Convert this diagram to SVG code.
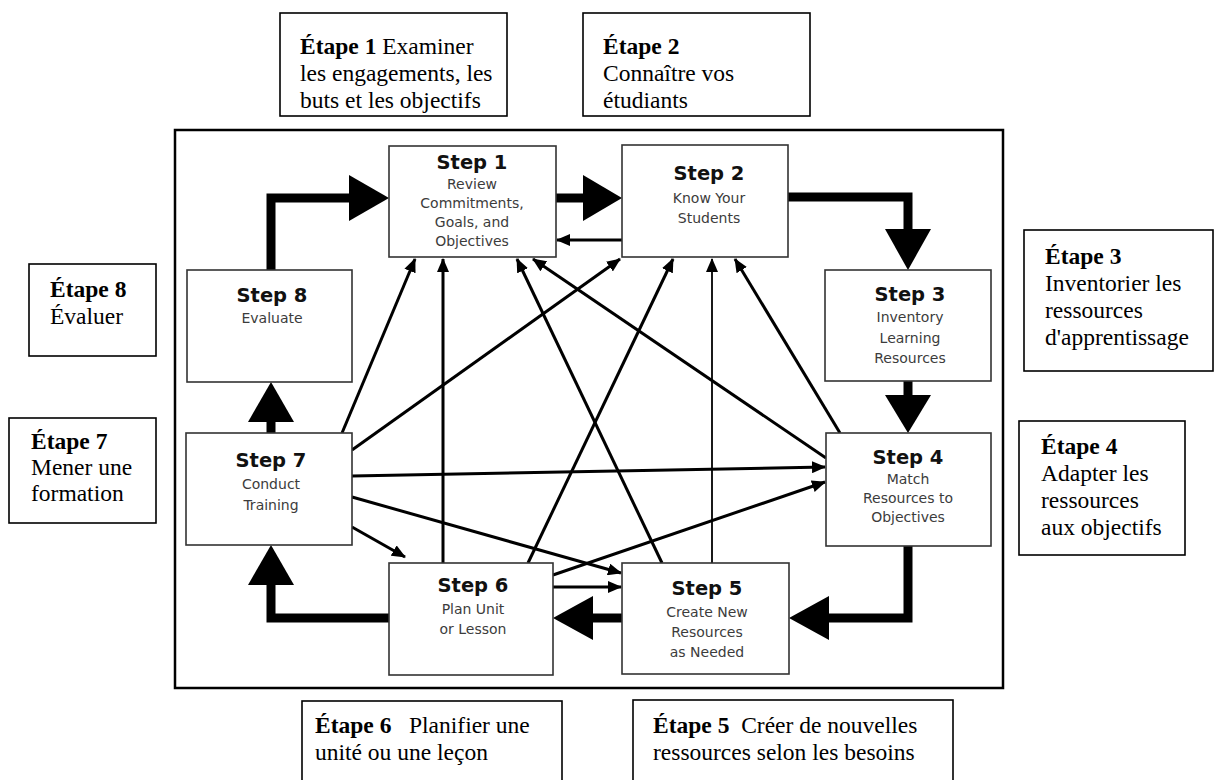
<svg xmlns="http://www.w3.org/2000/svg" width="1215" height="780" viewBox="0 0 1215 780">
  <defs>
    <style>
      .frame { fill: #fff; stroke: #000; stroke-width: 2.5; }
      .node { fill: #fff; stroke: #333; stroke-width: 1.6; }
      .note { fill: #fff; stroke: #000; stroke-width: 1.6; }
      .title { font-family: "DejaVu Sans", Verdana, sans-serif; font-weight: bold; font-size: 19.5px; fill: #111; text-anchor: middle; }
      .sub { font-family: "DejaVu Sans", Verdana, sans-serif; font-size: 14px; fill: #3c3c3c; text-anchor: middle; }
      .fr { font-family: "Liberation Serif", "Times New Roman", serif; font-size: 23.5px; fill: #000; white-space: pre; }
      .fr .b { font-weight: bold; }
      .thick { fill: none; stroke: #000; stroke-width: 9; stroke-linejoin: miter; }
      .head { fill: #000; }
      .thin { fill: none; stroke: #000; stroke-width: 3; marker-end: url(#tip); }
      .hair { fill: none; stroke: #000; stroke-width: 1.8; marker-end: url(#tip); }
    </style>
    <marker id="tip" markerUnits="userSpaceOnUse" markerWidth="14" markerHeight="12" refX="13" refY="6" orient="auto">
      <path d="M0,0 L14,6 L0,12 z" fill="#000"/>
    </marker>
  </defs>

  <rect width="1215" height="780" fill="#fff"/>

  <!-- outer frame -->
  <rect class="frame" x="175" y="130" width="828" height="558"/>

  <!-- connectors -->
  <g id="connectors">
    <!-- main cycle -->
    <path class="thick" d="M271,270 V198 H350"/>
    <polygon class="head" points="349,175 389,198 349,221"/>
    <path class="thick" d="M556,198 H585"/>
    <polygon class="head" points="583,175 622,198 583,221"/>
    <path class="thick" d="M788,197 H908 V231"/>
    <polygon class="head" points="885,229 908,270 931,229"/>
    <path class="thick" d="M908,381 V397"/>
    <polygon class="head" points="885,395 908,433 931,395"/>
    <path class="thick" d="M908,546 V618 H827"/>
    <polygon class="head" points="829,596 789,618 829,640"/>
    <path class="thick" d="M622,618 H591"/>
    <polygon class="head" points="593,596 553,618 593,640"/>
    <path class="thick" d="M389,618 H271 V583"/>
    <polygon class="head" points="248,585 271,545 294,585"/>
    <path class="thick" d="M271,433 V420"/>
    <polygon class="head" points="248,422 271,382 294,422"/>

    <!-- cross links -->
    <line class="thin" x1="622" y1="240" x2="557" y2="240"/>
    <line class="thin" x1="342" y1="433" x2="415" y2="259"/>
    <line class="thin" x1="443" y1="563" x2="443" y2="259"/>
    <line class="thin" x1="662" y1="563" x2="517" y2="259"/>
    <line class="thin" x1="826" y1="458" x2="533" y2="259"/>
    <line class="thin" x1="352" y1="450" x2="620" y2="259"/>
    <line class="thin" x1="528" y1="563" x2="673" y2="259"/>
    <line class="hair" x1="712" y1="563" x2="712" y2="259"/>
    <line class="thin" x1="840" y1="433" x2="735" y2="259"/>
    <line class="thin" x1="352" y1="476" x2="825" y2="467"/>
    <line class="thin" x1="352" y1="497" x2="621" y2="573"/>
    <line class="thin" x1="352" y1="527" x2="405" y2="557"/>
    <line class="thin" x1="553" y1="575" x2="825" y2="482"/>
    <line class="thin" x1="553" y1="587" x2="621" y2="587"/>
  </g>

  <!-- steps -->
  <g id="step1">
    <rect class="node" x="389" y="146" width="167" height="111"/>
    <text class="title" x="472" y="169">Step 1</text>
    <text class="sub" x="472" y="189">Review</text>
    <text class="sub" x="472" y="208">Commitments,</text>
    <text class="sub" x="472" y="227">Goals, and</text>
    <text class="sub" x="472" y="246">Objectives</text>
  </g>
  <g id="step2">
    <rect class="node" x="622" y="145" width="166" height="112"/>
    <text class="title" x="709" y="180">Step 2</text>
    <text class="sub" x="709" y="203">Know Your</text>
    <text class="sub" x="709" y="223">Students</text>
  </g>
  <g id="step3">
    <rect class="node" x="825" y="270" width="166" height="111"/>
    <text class="title" x="910" y="301">Step 3</text>
    <text class="sub" x="910" y="322">Inventory</text>
    <text class="sub" x="910" y="343">Learning</text>
    <text class="sub" x="910" y="363">Resources</text>
  </g>
  <g id="step4">
    <rect class="node" x="826" y="433" width="165" height="113"/>
    <text class="title" x="908" y="464">Step 4</text>
    <text class="sub" x="908" y="484">Match</text>
    <text class="sub" x="908" y="503">Resources to</text>
    <text class="sub" x="908" y="522">Objectives</text>
  </g>
  <g id="step5">
    <rect class="node" x="622" y="563" width="167" height="111"/>
    <text class="title" x="707" y="595">Step 5</text>
    <text class="sub" x="707" y="617">Create New</text>
    <text class="sub" x="707" y="637">Resources</text>
    <text class="sub" x="707" y="657">as Needed</text>
  </g>
  <g id="step6">
    <rect class="node" x="389" y="563" width="164" height="112"/>
    <text class="title" x="473" y="592">Step 6</text>
    <text class="sub" x="473" y="614">Plan Unit</text>
    <text class="sub" x="473" y="634">or Lesson</text>
  </g>
  <g id="step7">
    <rect class="node" x="186" y="433" width="166" height="112"/>
    <text class="title" x="271" y="467">Step 7</text>
    <text class="sub" x="271" y="489">Conduct</text>
    <text class="sub" x="271" y="510">Training</text>
  </g>
  <g id="step8">
    <rect class="node" x="187" y="270" width="165" height="112"/>
    <text class="title" x="272" y="302">Step 8</text>
    <text class="sub" x="272" y="323">Evaluate</text>
  </g>

  <!-- French captions -->
  <g id="etape1">
    <rect class="note" x="280" y="13" width="227" height="103"/>
    <text class="fr" x="300" y="54"><tspan class="b">Étape 1</tspan> Examiner</text>
    <text class="fr" x="300" y="81">les engagements, les</text>
    <text class="fr" x="300" y="108">buts et les objectifs</text>
  </g>
  <g id="etape2">
    <rect class="note" x="583" y="13" width="227" height="103"/>
    <text class="fr" x="603" y="54"><tspan class="b">Étape 2</tspan></text>
    <text class="fr" x="603" y="81">Connaître vos</text>
    <text class="fr" x="603" y="108">étudiants</text>
  </g>
  <g id="etape3">
    <rect class="note" x="1024" y="230" width="189" height="141"/>
    <text class="fr" x="1045" y="264"><tspan class="b">Étape 3</tspan></text>
    <text class="fr" x="1045" y="291">Inventorier les</text>
    <text class="fr" x="1045" y="318">ressources</text>
    <text class="fr" x="1045" y="345">d'apprentissage</text>
  </g>
  <g id="etape4">
    <rect class="note" x="1019" y="421" width="166" height="134"/>
    <text class="fr" x="1041" y="454"><tspan class="b">Étape 4</tspan></text>
    <text class="fr" x="1041" y="481">Adapter les</text>
    <text class="fr" x="1041" y="508">ressources</text>
    <text class="fr" x="1041" y="535">aux objectifs</text>
  </g>
  <g id="etape5">
    <rect class="note" x="633" y="700" width="320" height="90"/>
    <text class="fr" x="653" y="733"><tspan class="b">Étape 5</tspan>  Créer de nouvelles</text>
    <text class="fr" x="653" y="760">ressources selon les besoins</text>
  </g>
  <g id="etape6">
    <rect class="note" x="302" y="701" width="260" height="90"/>
    <text class="fr" x="315" y="733"><tspan class="b">Étape 6</tspan>   Planifier une</text>
    <text class="fr" x="315" y="760">unité ou une leçon</text>
  </g>
  <g id="etape7">
    <rect class="note" x="9" y="418" width="147" height="105"/>
    <text class="fr" x="31" y="449"><tspan class="b">Étape 7</tspan></text>
    <text class="fr" x="31" y="475">Mener une</text>
    <text class="fr" x="31" y="501">formation</text>
  </g>
  <g id="etape8">
    <rect class="note" x="29" y="264" width="127" height="92"/>
    <text class="fr" x="50" y="297"><tspan class="b">Étape 8</tspan></text>
    <text class="fr" x="50" y="324">Évaluer</text>
  </g>
</svg>
